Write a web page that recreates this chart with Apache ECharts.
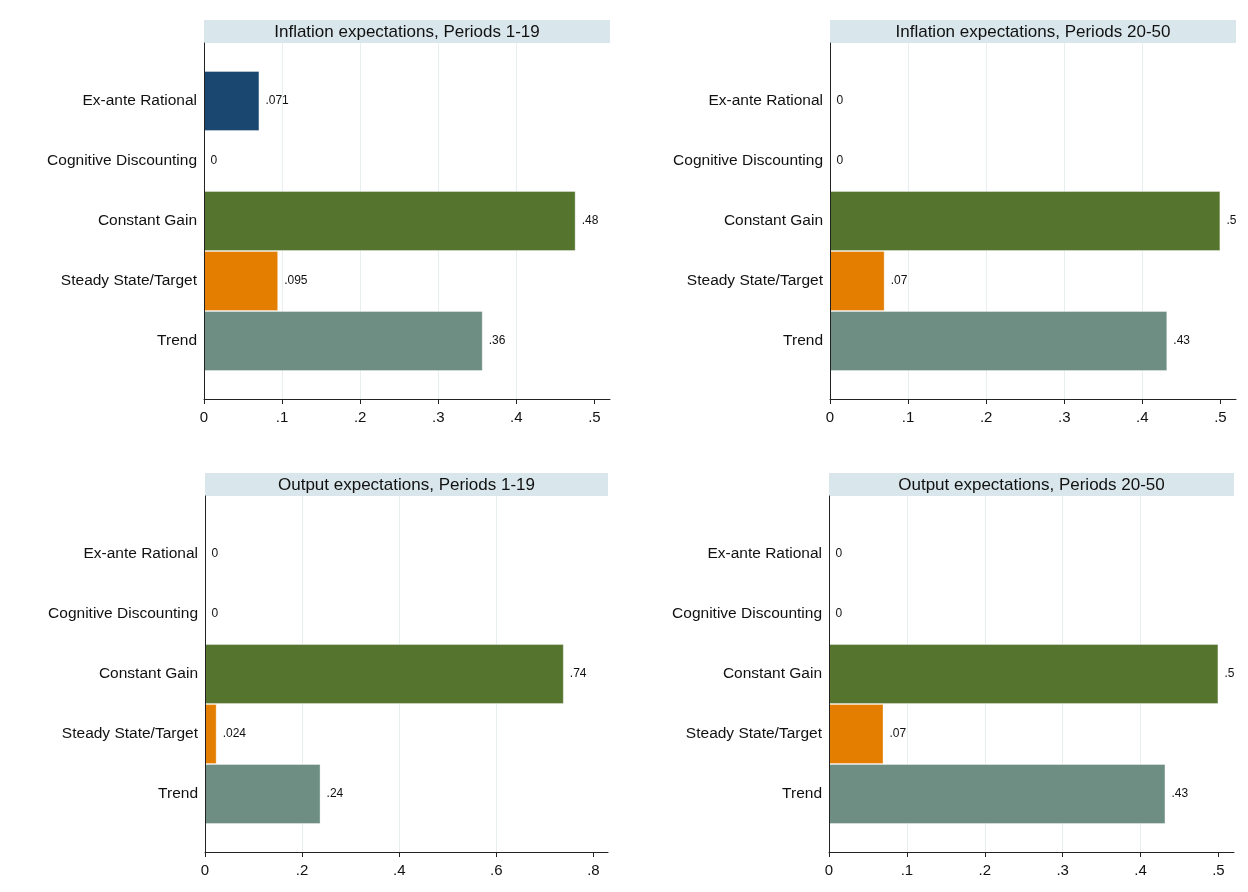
<!DOCTYPE html>
<html>
<head>
<meta charset="utf-8">
<script src="https://cdn.jsdelivr.net/npm/echarts@6/dist/echarts.min.js"></script>
<style>
  html, body { margin: 0; padding: 0; background: #fff; }
  #chart { width: 1248px; height: 892px; }
</style>
</head>
<body>
<div id="chart"></div>
<script>
// categories, top to bottom
const categories = ['Ex-ante Rational', 'Cognitive Discounting', 'Constant Gain', 'Steady State/Target', 'Trend'];
const barColors = ['#1a476f', '#90353b', '#55752f', '#e37e00', '#6e8e84'];

// shares per panel
const inflationEarly = [0.071, 0, 0.476, 0.095, 0.357];
const inflationLate = [0, 0, 0.5, 0.07, 0.432];
const outputEarly = [0, 0, 0.739, 0.024, 0.238];
const outputLate = [0, 0, 0.5, 0.07, 0.432];

const panelTitles = [
  'Inflation expectations, Periods 1-19',
  'Inflation expectations, Periods 20-50',
  'Output expectations, Periods 1-19',
  'Output expectations, Periods 20-50'
];

// tick labels
const ticksTenths = [0, 0.1, 0.2, 0.3, 0.4, 0.5];
const ticksFifths = [0, 0.2, 0.4, 0.6, 0.8];

const FONT = '"Liberation Sans", Arial, sans-serif';

// panel layout (pixels)
const panels = [
  { data: inflationEarly, ticks: ticksTenths, max: 0.52, left: 204, right: 610, top: 20 },
  { data: inflationLate, ticks: ticksTenths, max: 0.52, left: 830, right: 1236, top: 20 },
  { data: outputEarly, ticks: ticksFifths, max: 0.83, left: 205, right: 608, top: 473 },
  { data: outputLate, ticks: ticksTenths, max: 0.52, left: 829, right: 1234, top: 473 }
];

const STRIP_H = 23;
const PLOT_H = 356;
const PAD = 28;

// Stata-like number format: .071, .5, 0
function stataNum(v) {
  if (v === 0) return '0';
  return String(Number(v.toPrecision(2))).replace(/^0\./, '.');
}

const grid = [], xAxis = [], yAxis = [], series = [], graphic = [];

panels.forEach((p, i) => {
  const width = p.right - p.left;
  const plotTop = p.top + STRIP_H;
  const outer = i * 2, inner = i * 2 + 1;

  // outer frame: axes, grid lines
  grid.push({ left: p.left, top: plotTop, width: width, height: PLOT_H });
  // inner area: bars
  grid.push({ left: p.left, top: plotTop + PAD, width: width, height: PLOT_H - 2 * PAD });

  xAxis.push({
    gridIndex: outer, type: 'value', min: 0, max: p.max,
    axisLine: { show: true, lineStyle: { color: '#222', width: 1 } },
    axisTick: { show: true, length: 5, customValues: p.ticks, lineStyle: { color: '#222' } },
    axisLabel: {
      customValues: p.ticks, margin: 11, fontSize: 15, color: '#111', fontFamily: FONT,
      formatter: v => stataNum(v)
    },
    splitLine: { show: true, showMinLine: false, showMaxLine: false, lineStyle: { color: '#e6eef0', width: 1 } }
  });
  xAxis.push({
    gridIndex: inner, type: 'value', min: 0, max: p.max, show: false
  });

  // left axis line sits above the bars
  yAxis.push({
    gridIndex: outer, type: 'value', min: 0, max: 1, z: 10,
    axisLine: { show: true, lineStyle: { color: '#222', width: 1 } },
    axisTick: { show: false }, axisLabel: { show: false }, splitLine: { show: false }
  });
  yAxis.push({
    gridIndex: inner, type: 'category', data: categories, inverse: true,
    axisLine: { show: false }, axisTick: { show: false },
    axisLabel: { margin: 7, fontSize: 15.5, color: '#111', fontFamily: FONT }
  });

  series.push({
    type: 'bar', xAxisIndex: inner, yAxisIndex: inner,
    barCategoryGap: 0,
    data: p.data.map((v, k) => ({ value: v, itemStyle: { color: barColors[k] } })),
    itemStyle: { borderColor: 'rgba(255,255,255,0.35)', borderWidth: 1 },
    label: {
      show: true, position: 'right', distance: 6, fontSize: 12, color: '#111', fontFamily: FONT,
      formatter: d => stataNum(d.value)
    },
    silent: true
  });

  // title strip
  graphic.push({
    type: 'rect', left: p.left, top: p.top, silent: true,
    shape: { width: width, height: STRIP_H },
    style: { fill: '#d9e6eb' }
  });
  graphic.push({
    type: 'text', silent: true,
    x: p.left + width / 2, y: p.top + STRIP_H / 2 + 1,
    style: {
      text: panelTitles[i], fill: '#111', font: '17px ' + FONT,
      align: 'center', verticalAlign: 'middle'
    }
  });
});

const chart = echarts.init(document.getElementById('chart'));
chart.setOption({
  backgroundColor: '#fff',
  animation: false,
  grid, xAxis, yAxis, series, graphic
});
</script>
</body>
</html>
